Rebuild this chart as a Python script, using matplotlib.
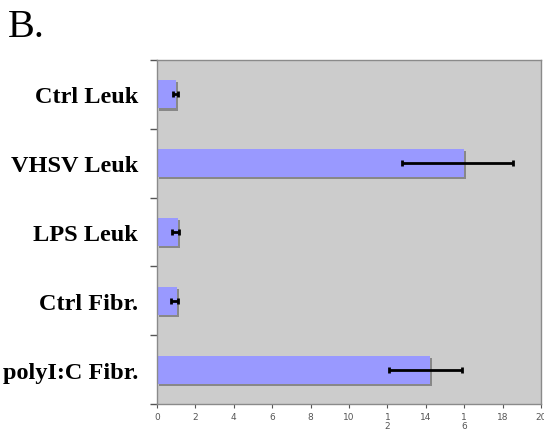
import matplotlib.pyplot as plt
import matplotlib.patheffects as pe
import numpy as np

categorias = ['Ctrl Leuk', 'VHSV Leuk', 'LPS Leuk', 'Ctrl Fibr.', 'polyI:C Fibr.']
valores = [1.0, 16.0, 1.1, 1.02, 14.2]
erroInferior = [0.15, 3.25, 0.3, 0.3, 2.1]
erroSuperior = [0.1, 2.55, 0.05, 0.05, 1.7]
xticksValores = [0, 2, 4, 6, 8, 10, 12, 14, 16, 18, 20]
xticksTextos = ['0', '2', '4', '6', '8', '10', '1\n2', '14', '1\n6', '18', '20']

fig = plt.figure(figsize=(5.44, 4.31), dpi=100)
ax = fig.add_axes([0.2886, 0.0603, 0.706, 0.7982])
ax.set_facecolor('#cccccc')

posicoes = np.arange(len(categorias))
# barras com sombra, estilo Excel
ax.barh(posicoes, valores, height=0.41, color='#9999ff',
        path_effects=[pe.SimplePatchShadow(offset=(1.5, -1.5), shadow_rgbFace='#777777', alpha=0.8), pe.Normal()],
        zorder=2)
ax.errorbar(valores, posicoes, xerr=[erroInferior, erroSuperior], fmt='none',
            ecolor='black', elinewidth=2, capsize=2.5, capthick=2, zorder=3)

ax.set_xlim(0, 20)
ax.set_ylim(4.5, -0.5)

ax.set_yticks(posicoes)
ax.set_yticklabels(categorias, fontfamily='Liberation Serif', fontweight='bold', fontsize=17.5)
ax.set_yticks(np.arange(-0.5, 5, 1), minor=True)
ax.tick_params(axis='y', which='major', length=0, pad=13.7)
ax.tick_params(axis='y', which='minor', length=5, color='#555555', width=1)

ax.set_xticks(xticksValores)
ax.set_xticklabels(xticksTextos, fontsize=6.5, color='#555555', linespacing=0.95)
ax.tick_params(axis='x', length=3, color='#555555', pad=3)

for lado in ['top', 'right', 'bottom', 'left']:
    ax.spines[lado].set_color('#8a8a8a')
    ax.spines[lado].set_linewidth(1)

fig.text(0.015, 0.915, 'B.', fontfamily='Liberation Serif', fontsize=29, va='baseline')

fig.savefig('out.png', dpi=100)
